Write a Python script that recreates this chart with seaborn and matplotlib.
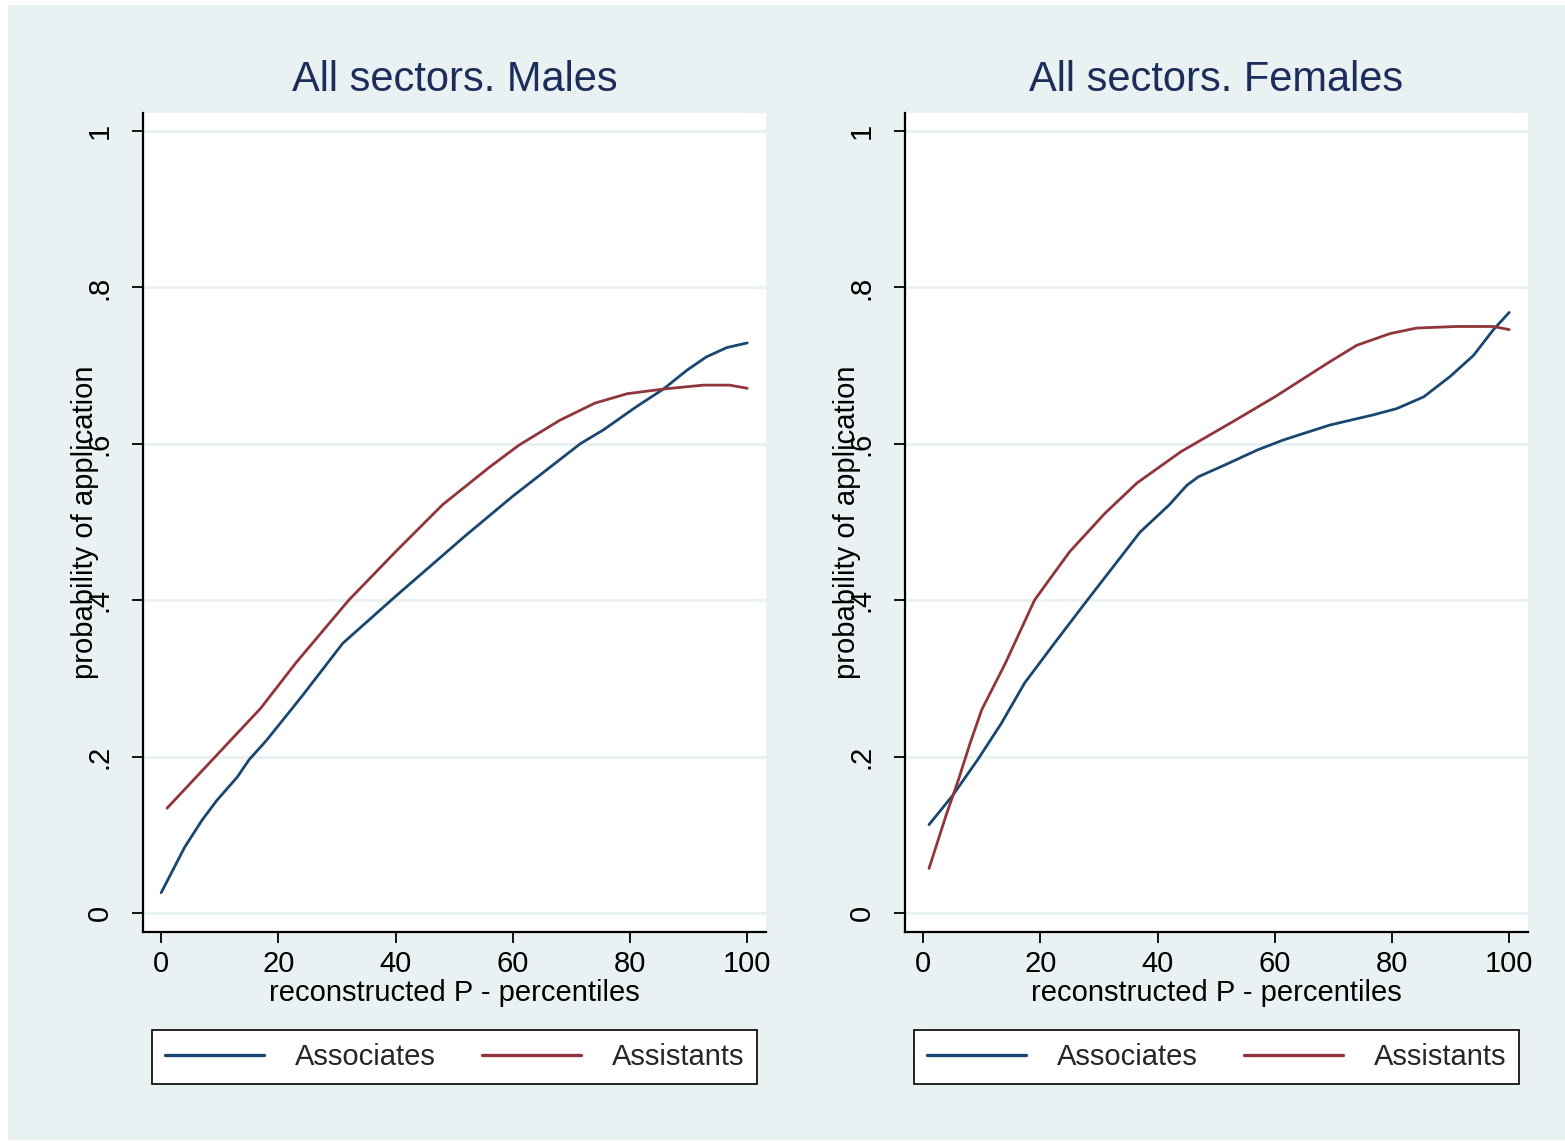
import matplotlib
matplotlib.use("Agg")
import matplotlib.pyplot as plt
from matplotlib.lines import Line2D
from matplotlib.patches import Rectangle
import seaborn as sns
import pandas as pd

# ---------------- data ----------------
panel_titles = ["All sectors. Males", "All sectors. Females"]
series_names = ["Associates", "Assistants"]
x_ticks = [0, 20, 40, 60, 80, 100]
y_ticks = [0, 0.2, 0.4, 0.6, 0.8, 1.0]
y_tick_labels = ["0", ".2", ".4", ".6", ".8", "1"]

male_assoc_p = [0, 2, 4, 7, 9.5, 13, 15, 18, 24, 31, 40, 48, 52, 60, 71.5, 75.5,
                81, 85.7, 89.7, 93, 96.5, 100]
male_assoc_v = [0.026, 0.055, 0.084, 0.119, 0.144, 0.174, 0.196, 0.221, 0.277, 0.345,
                0.405, 0.457, 0.483, 0.533, 0.600, 0.618, 0.647, 0.670, 0.694, 0.711,
                0.723, 0.729]

male_asst_p = [1, 5, 9, 17, 23, 32, 40, 48, 56, 61, 68, 74, 79.5, 85.7, 92.5, 97, 100]
male_asst_v = [0.134, 0.166, 0.198, 0.262, 0.320, 0.400, 0.462, 0.522, 0.570, 0.598,
               0.630, 0.652, 0.664, 0.670, 0.675, 0.675, 0.671]

fem_assoc_p = [1, 5, 9.3, 13.3, 17.3, 22.4, 28, 37, 42, 45, 47, 51.5, 57, 61.5, 69.4,
               76.8, 80.8, 85.4, 89.9, 93.9, 97.3, 100]
fem_assoc_v = [0.113, 0.150, 0.196, 0.242, 0.294, 0.345, 0.400, 0.487, 0.522, 0.547,
               0.558, 0.573, 0.592, 0.605, 0.624, 0.637, 0.645, 0.660, 0.686, 0.713,
               0.746, 0.768]

fem_asst_p = [1, 4, 6, 8, 10, 14, 19, 21.5, 25, 31, 36.5, 44, 47, 53, 60, 69.4, 74,
              79.7, 84.2, 91, 97.3, 100]
fem_asst_v = [0.057, 0.127, 0.170, 0.217, 0.260, 0.319, 0.400, 0.426, 0.462, 0.511,
              0.550, 0.590, 0.603, 0.629, 0.660, 0.705, 0.726, 0.741, 0.748, 0.750,
              0.750, 0.746]

x_label = "reconstructed P - percentiles"
y_label = "probability of application"

# ---------------- style ----------------
sns.set_style("white")
plt.rcParams["font.family"] = ["Liberation Sans", "DejaVu Sans"]

BG = "#EAF1F3"
NAVY = "#1a476f"
MAROON = "#90353b"
TITLE_C = "#1c2d5a"
palette = {"Associates": NAVY, "Assistants": MAROON}

W, H = 1565, 1143
fig = plt.figure(figsize=(W / 100, H / 100), dpi=100, facecolor="white")
fig.patches.append(Rectangle((8 / W, 3 / H), (W - 8) / W, (H - 8) / H,
                             transform=fig.transFigure, facecolor=BG,
                             edgecolor="none", zorder=-10))


def px_axes(x0, x1, y0, y1):
    return fig.add_axes([x0 / W, 1 - y1 / H, (x1 - x0) / W, (y1 - y0) / H])


panels = [
    (px_axes(143, 766, 113, 932), panel_titles[0],
     (male_assoc_p, male_assoc_v), (male_asst_p, male_asst_v)),
    (px_axes(905, 1528, 113, 932), panel_titles[1],
     (fem_assoc_p, fem_assoc_v), (fem_asst_p, fem_asst_v)),
]

for ax, title, assoc, asst in panels:
    df = pd.concat([
        pd.DataFrame({"p": assoc[0], "v": assoc[1], "series": series_names[0]}),
        pd.DataFrame({"p": asst[0], "v": asst[1], "series": series_names[1]}),
    ])
    ax.set_facecolor("white")
    for yt in y_ticks:
        ax.axhline(yt, color=BG, lw=2.2, zorder=0)
    sns.lineplot(data=df, x="p", y="v", hue="series", palette=palette,
                 estimator=None, sort=False, lw=2.0, legend=False, ax=ax, zorder=3)
    for ln in ax.get_lines():
        ln.set_solid_joinstyle("round")
        ln.set_solid_capstyle("round")

    ax.set_xlim(-3.1, 103.2)
    ax.set_ylim(-0.0243, 1.023)
    ax.set_xticks(x_ticks)
    ax.set_xticklabels([str(t) for t in x_ticks])
    ax.set_yticks(y_ticks)
    ax.set_yticklabels(y_tick_labels, rotation=90, va="center")

    for s in ["top", "right"]:
        ax.spines[s].set_visible(False)
    for s in ["left", "bottom"]:
        ax.spines[s].set_visible(True)
        ax.spines[s].set_color("black")
        ax.spines[s].set_linewidth(1.6)

    ax.tick_params(axis="both", direction="out", length=8, width=1.3,
                   color="black", labelsize=21, labelcolor="black",
                   bottom=True, left=True)
    ax.tick_params(axis="x", pad=5)
    ax.tick_params(axis="y", pad=13)

    ax.set_xlabel(x_label, fontsize=21, color="black", labelpad=1)
    ax.set_ylabel(y_label, fontsize=21, color="black")
    ax.yaxis.set_label_coords(-0.093, 0.5)
    ax.yaxis.label.set_va("center")
    ax.yaxis.label.set_ha("center")

    ax.set_title(title, fontsize=30, color=TITLE_C, y=1.040, va="center", pad=0)

    handles = [Line2D([0], [0], color=palette[n], lw=2.4) for n in series_names]
    leg = ax.legend(handles, series_names, loc="upper center",
                    bbox_to_anchor=(0.5, -0.1197), ncol=2, fontsize=21,
                    frameon=True, fancybox=False, shadow=False, framealpha=1,
                    facecolor="white", edgecolor="black", borderaxespad=0,
                    handlelength=3.4, handletextpad=1.05, columnspacing=1.6,
                    borderpad=0.45)
    leg.get_frame().set_linewidth(1.2)

fig.savefig("out.png", dpi=100, facecolor=fig.get_facecolor())
